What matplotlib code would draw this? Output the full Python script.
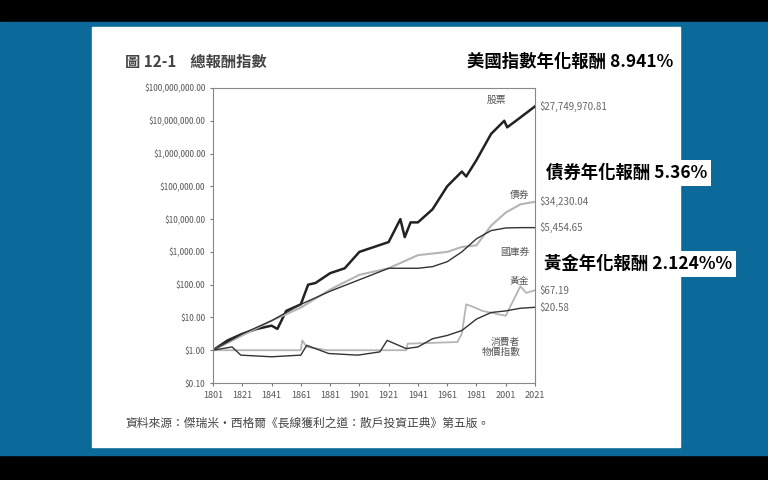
import numpy as np
import matplotlib
matplotlib.use("Agg")
import matplotlib.pyplot as plt
from matplotlib.patches import Rectangle

plt.rcParams['font.family'] = ['Noto Sans CJK TC', 'DejaVu Sans']

# log10 of total return index
stock_years = [1801, 1811, 1821, 1831, 1841, 1845, 1851, 1861, 1866, 1871, 1881, 1891, 1901, 1911, 1921, 1929, 1932, 1936, 1941, 1951, 1961, 1971, 1974, 1981, 1991, 2000, 2002, 2008, 2011, 2021]
stock_log = [0, 0.3, 0.5, 0.65, 0.75, 0.65, 1.2, 1.4, 2.0, 2.05, 2.35, 2.5, 3.0, 3.15, 3.3, 4.0, 3.45, 3.9, 3.9, 4.3, 5.0, 5.45, 5.3, 5.8, 6.6, 7.0, 6.8, 7.0, 7.1, 7.44]
bond_years = [1801, 1821, 1841, 1861, 1881, 1901, 1921, 1941, 1961, 1971, 1981, 1991, 2001, 2011, 2021]
bond_log = [0, 0.45, 0.9, 1.3, 1.85, 2.3, 2.5, 2.9, 3.0, 3.15, 3.2, 3.8, 4.2, 4.45, 4.53]
bill_years = [1801, 1821, 1841, 1861, 1881, 1901, 1921, 1941, 1951, 1961, 1971, 1981, 1991, 2001, 2011, 2021]
bill_log = [0, 0.5, 0.9, 1.4, 1.8, 2.15, 2.5, 2.5, 2.55, 2.7, 3.0, 3.4, 3.65, 3.73, 3.74, 3.74]
gold_years = [1801, 1861, 1862, 1865, 1879, 1933, 1934, 1968, 1971, 1974, 1980, 1985, 2001, 2011, 2015, 2021]
gold_log = [0, 0, 0.3, 0.1, 0, 0, 0.2, 0.25, 0.5, 1.4, 1.3, 1.2, 1.05, 1.95, 1.75, 1.83]
cpi_years = [1801, 1814, 1820, 1841, 1861, 1865, 1880, 1900, 1915, 1920, 1933, 1941, 1951, 1961, 1971, 1981, 1991, 2001, 2011, 2021]
cpi_log = [0, 0.1, -0.15, -0.2, -0.15, 0.15, -0.1, -0.15, -0.05, 0.3, 0.05, 0.1, 0.35, 0.45, 0.6, 0.95, 1.15, 1.2, 1.28, 1.31]

ytick_labels = ["$0.10", "$1.00", "$10.00", "$100.00", "$1,000.00", "$10,000.00",
                "$100,000.00", "$1,000,000.00", "$10,000,000.00", "$100,000,000.00"]
xticks = list(range(1801, 2022, 20))

fig = plt.figure(figsize=(7.68, 4.8), dpi=100)
fig.patch.set_facecolor("black")
fig.add_artist(Rectangle((0, 25 / 480), 1, 433 / 480, transform=fig.transFigure, color="#0b6a9a", zorder=-10))
fig.add_artist(Rectangle((92 / 768, 33 / 480), 588 / 768, 420 / 480, transform=fig.transFigure, color="white", zorder=-9))

ax = fig.add_axes([213 / 768, 1 - 383 / 480, 322 / 768, 295 / 480])
ax.set_zorder(5)
ax.plot(stock_years, 10 ** np.array(stock_log), color="#222222", lw=1.8)
ax.plot(bond_years, 10 ** np.array(bond_log), color="#b5b5b5", lw=1.5)
ax.plot(bill_years, 10 ** np.array(bill_log), color="#333333", lw=1.0)
ax.plot(gold_years, 10 ** np.array(gold_log), color="#b5b5b5", lw=1.3)
ax.plot(cpi_years, 10 ** np.array(cpi_log), color="#333333", lw=1.0)
ax.set_yscale("log")
ax.set_ylim(0.1, 1e8)
ax.set_xlim(1801, 2021)
ax.set_yticks([10.0 ** k for k in range(-1, 9)])
ax.set_yticklabels(ytick_labels, fontsize=6, color="#555555")
ax.minorticks_off()
ax.set_xticks(xticks)
ax.set_xticklabels([str(x) for x in xticks], fontsize=6.5, color="#555555")
ax.tick_params(length=2, color="#777777")
for s in ax.spines.values():
    s.set_color("#888888")

gc = "#555555"
ax.text(2001, 10 ** 7.55, "股票", fontsize=7, color=gc, ha="right")
ax.text(2017, 10 ** 4.65, "債券", fontsize=7, color=gc, ha="right")
ax.text(2017, 10 ** 2.9, "國庫券", fontsize=7, color=gc, ha="right")
ax.text(2017, 10 ** 2.05, "黃金", fontsize=7, color=gc, ha="right")
ax.text(2011, 10 ** -0.15, "消費者\n物價指數", fontsize=7, color=gc, ha="right", linespacing=1.1)
for v, t in [(7.44, "$27,749,970.81"), (4.53, "$34,230.04"), (3.73, "$5,454.65"),
             (1.82, "$67.19"), (1.3, "$20.58")]:
    ax.text(2024, 10 ** v, t, fontsize=7, color="#666666", va="center", clip_on=False)

fig.text(125 / 768, 1 - 62 / 480, "圖 12-1    總報酬指數", fontsize=11, fontweight="bold", color="#444444", va="center")
fig.text(673 / 768, 1 - 62 / 480, "美國指數年化報酬 8.941%", fontsize=12.5, fontweight="bold", color="black", ha="right", va="center")
fig.text(546 / 768, 1 - 173 / 480, "債券年化報酬 5.36%", fontsize=12.5, fontweight="bold", color="black", va="center",
         bbox=dict(facecolor="white", edgecolor="none", pad=3))
fig.text(544 / 768, 1 - 264 / 480, "黃金年化報酬 2.124%%", fontsize=12.5, fontweight="bold", color="black", va="center",
         bbox=dict(facecolor="white", edgecolor="none", pad=3))
fig.text(125 / 768, 1 - 423 / 480, "資料來源：傑瑞米・西格爾《長線獲利之道：散戶投資正典》第五版。", fontsize=8.5, color="#444444", va="center")

fig.savefig("out.png", dpi=100, facecolor=fig.get_facecolor())
